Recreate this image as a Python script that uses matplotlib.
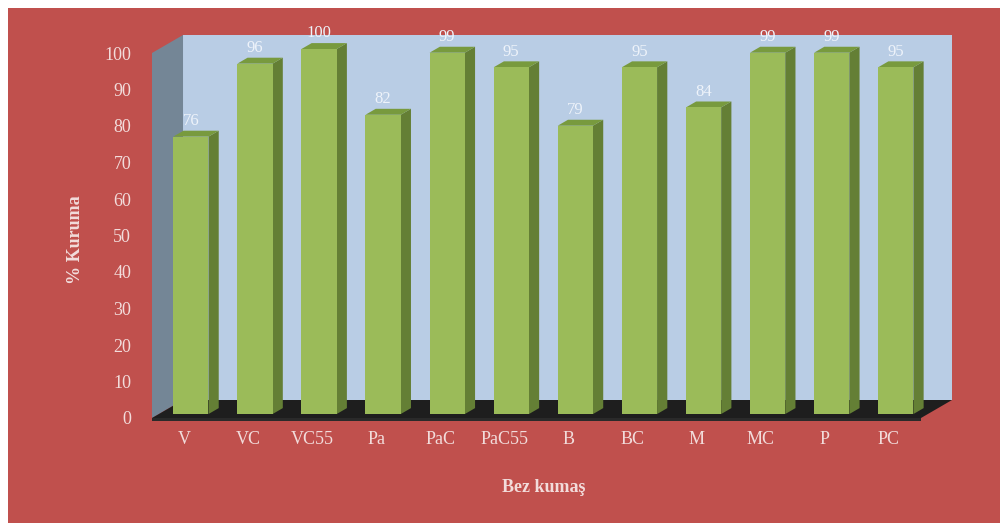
import matplotlib.pyplot as plt
from matplotlib.patches import Polygon, Rectangle

categories = ["V", "VC", "VC55", "Pa", "PaC", "PaC55", "B", "BC", "M", "MC", "P", "PC"]
values = [76, 96, 100, 82, 99, 95, 79, 95, 84, 99, 99, 95]
yticks = [0, 10, 20, 30, 40, 50, 60, 70, 80, 90, 100]

RED = "#C0504D"
TXT = "#F2DCDB"
FONT = "Liberation Serif"

fig = plt.figure(figsize=(10, 5.23), dpi=100, facecolor="white")
fig.patches.append(Rectangle((0.008, 0), 0.992, 515 / 523, transform=fig.transFigure,
                             facecolor=RED, edgecolor="none", zorder=-5))

ax = fig.add_axes([0.152, 105 / 523, 0.769, 365 / 523])
ax.set_facecolor("none")
n = len(categories)
ax.set_xlim(-0.5, n - 0.5)
ax.set_ylim(0, 100)
for s in ax.spines.values():
    s.set_visible(False)

# oblique depth offset, in data units
DX, DY = 0.484, 4.93
f0, f1 = 0.22, 0.55   # bar front / back depth fraction
w = 0.55

x0, x1 = -0.5, n - 0.5
# back wall
ax.add_patch(Rectangle((x0 + DX, DY), x1 - x0, 100, facecolor="#B9CDE5",
                       edgecolor="none", clip_on=False, zorder=1))
# side wall
ax.add_patch(Polygon([(x0, 0), (x0, 100), (x0 + DX, 100 + DY), (x0 + DX, DY)],
                     facecolor="#748696", edgecolor="none", clip_on=False, zorder=1))
# floor
ax.add_patch(Polygon([(x0, 0), (x1, 0), (x1 + DX, DY), (x0 + DX, DY)],
                     facecolor="#1E1E1E", edgecolor="none", clip_on=False, zorder=2))
ax.add_patch(Polygon([(x0, -0.8), (x1, -0.8), (x1, 0), (x0, 0)],
                     facecolor="#2A2A2A", edgecolor="none", clip_on=False, zorder=2))

dd = f1 - f0
for i, v in enumerate(values):
    xl = i - w / 2 + f0 * DX
    xr = i + w / 2 + f0 * DX
    yb = f0 * DY
    yt = v + f0 * DY
    # side
    ax.add_patch(Polygon([(xr, yb), (xr, yt), (xr + dd * DX, yt + dd * DY), (xr + dd * DX, yb + dd * DY)],
                         facecolor="#647F35", edgecolor="none", clip_on=False, zorder=3))
    # top
    ax.add_patch(Polygon([(xl, yt), (xr, yt), (xr + dd * DX, yt + dd * DY), (xl + dd * DX, yt + dd * DY)],
                         facecolor="#789A3E", edgecolor="none", clip_on=False, zorder=3))
    # front
    ax.add_patch(Rectangle((xl, yb), w, v, facecolor="#9BBB59", edgecolor="none",
                           clip_on=False, zorder=4))
    ax.text(i + f0 * DX, yt + 4.3, str(v), ha="center", va="center", color="#EEF3FA",
            fontsize=12, family=FONT, zorder=5, clip_on=False)

ax.set_xticks(range(n))
ax.set_xticklabels(categories)
ax.set_yticks(yticks)
ax.tick_params(axis="both", length=0, colors=TXT)
ax.tick_params(axis="y", pad=15)
ax.tick_params(axis="x", pad=9)
for lab in ax.get_xticklabels() + ax.get_yticklabels():
    lab.set_family(FONT)
    lab.set_fontsize(13)

fig.text(0.075, 1 - 240 / 523, "% Kuruma", rotation=90, ha="center", va="center",
         color=TXT, fontsize=13, fontweight="bold", family=FONT)
fig.text(0.544, 1 - 488 / 523, "Bez kumaş", ha="center", va="center",
         color=TXT, fontsize=13, fontweight="bold", family=FONT)

fig.savefig("out.png", dpi=100, facecolor=fig.get_facecolor())
